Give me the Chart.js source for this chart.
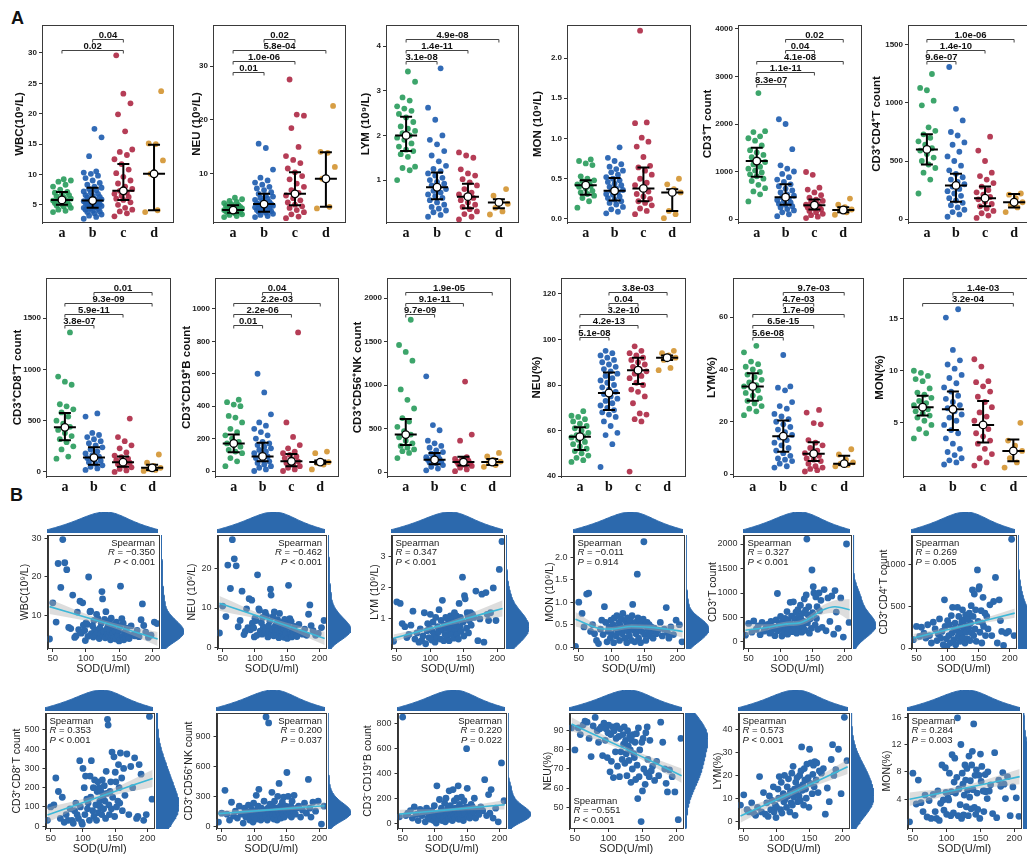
<!DOCTYPE html>
<html>
<head>
<meta charset="utf-8">
<script src="https://cdn.jsdelivr.net/npm/chart.js@4.4.1/dist/chart.umd.min.js"></script>
<style>
body{margin:0;background:#fff}
#fig{position:relative;width:1027px;height:854px;overflow:hidden}
#fig canvas{position:absolute}
.tag{position:absolute;font:bold 18px 'Liberation Sans',Arial,sans-serif;color:#111}
</style>
</head>
<body>
<div id="fig">
  <div class="tag" style="left:11px;top:8px">A</div>
  <div class="tag" style="left:10px;top:485px">B</div>
</div>
<script>
// ---------- panel A: values per group a, b, c, d ----------
const CATS = ['a', 'b', 'c', 'd'];

const wbcA = [
  [3.8,4.0,4.2,4.5,4.7,4.9,5.0,5.1,5.3,5.4,5.6,5.7,5.8,5.9,6.0,6.2,6.4,6.6,6.8,7.0,7.1,7.5,8.0,8.3,8.8,9.0,9.2],
  [2.7,3.0,3.2,3.4,3.6,3.8,3.9,4.0,4.2,4.3,4.4,4.5,4.6,4.7,4.8,4.9,5.0,5.1,5.2,5.3,5.4,5.5,5.6,5.7,5.8,5.9,6.0,6.2,6.3,6.5,6.6,6.8,7.0,7.2,7.4,7.6,7.8,8.0,8.3,8.6,9.0,9.4,9.8,10.1,10.3,10.5,13.0,16.1,17.5],
  [3.1,3.6,3.9,4.2,4.5,5.0,5.4,5.8,6.0,6.3,6.5,6.8,7.0,7.3,7.6,8.0,8.5,9.0,9.6,10.2,10.8,11.7,12.5,13.2,13.7,14.1,17.1,19.9,21.7,23.3,29.6],
  [3.8,4.1,10.1,12.3,15.0,15.1,23.7]
];
const wbcA_stats = [[5.8,5.0,7.1],[5.7,4.5,7.8],[7.3,5.8,11.7],[10.1,4.1,14.9]];
const wbcA_p = [[1,2,'0.04'],[0,2,'0.02']];
const wbcA_ticks = [5,10,15,20,25,30];

const neuA = [
  [2.0,2.2,2.4,2.5,2.7,2.8,2.9,3.0,3.1,3.2,3.3,3.3,3.4,3.5,3.6,3.7,3.8,3.9,4.0,4.1,4.2,4.4,4.6,4.8,5.0,5.3,5.6],
  [2.0,2.2,2.4,2.6,2.8,3.0,3.1,3.2,3.3,3.5,3.6,3.8,3.9,4.0,4.1,4.2,4.3,4.4,4.5,4.6,4.8,5.0,5.2,5.4,5.6,5.8,6.0,6.3,6.6,7.0,7.3,7.6,8.0,8.4,8.8,9.3,10.8,14.8,15.6],
  [1.8,2.1,2.5,2.9,3.3,3.7,4.0,4.3,4.7,5.1,5.5,6.0,6.5,7.0,7.6,8.2,9.0,9.6,10.3,11.0,12.0,12.6,13.3,15.0,18.5,20.8,21.0,27.5],
  [3.6,3.9,9.1,11.3,13.9,14.1,22.6]
];
const neuA_stats = [[3.3,2.8,4.2],[4.4,3.0,6.3],[6.3,4.2,10.3],[9.1,3.9,14.0]];
const neuA_p = [[1,2,'0.02'],[0,3,'5.8e-04'],[0,2,'1.0e-06'],[0,1,'0.01']];
const neuA_ticks = [10,20,30];

const lymA = [
  [1.0,1.22,1.27,1.3,1.52,1.58,1.65,1.68,1.75,1.82,1.9,1.95,2.0,2.05,2.1,2.15,2.2,2.3,2.4,2.48,2.55,2.6,2.65,2.78,2.85,3.2,3.43],
  [0.18,0.22,0.28,0.32,0.36,0.4,0.45,0.5,0.55,0.6,0.64,0.68,0.72,0.76,0.8,0.84,0.88,0.92,0.96,1.0,1.05,1.1,1.15,1.2,1.25,1.32,1.42,1.55,1.65,1.8,1.9,2.0,2.35,2.62,3.5],
  [0.12,0.18,0.24,0.3,0.35,0.4,0.45,0.5,0.55,0.6,0.64,0.68,0.72,0.8,0.88,0.95,1.02,1.1,1.15,1.24,1.5,1.55,1.62],
  [0.23,0.3,0.38,0.47,0.52,0.65,0.8]
];
const lymA_stats = [[2.0,1.65,2.42],[0.84,0.57,1.17],[0.63,0.37,0.92],[0.5,0.37,0.57]];
const lymA_p = [[0,3,'4.9e-08'],[0,2,'1.4e-11'],[0,1,'3.1e-08']];
const lymA_ticks = [1,2,3,4];

const monA = [
  [0.14,0.22,0.26,0.29,0.31,0.33,0.35,0.38,0.4,0.41,0.42,0.43,0.45,0.47,0.48,0.5,0.53,0.67,0.69,0.72,0.74],
  [0.07,0.09,0.12,0.15,0.18,0.2,0.22,0.24,0.26,0.28,0.3,0.31,0.33,0.35,0.36,0.38,0.4,0.42,0.44,0.46,0.48,0.5,0.52,0.55,0.58,0.6,0.62,0.65,0.68,0.72,0.76,0.89],
  [0.06,0.1,0.13,0.17,0.2,0.22,0.25,0.28,0.31,0.34,0.38,0.42,0.45,0.5,0.55,0.6,0.64,0.66,0.77,0.9,0.96,1.01,1.19,1.2,2.34],
  [0.01,0.06,0.1,0.33,0.37,0.43,0.5]
];
const monA_stats = [[0.42,0.30,0.48],[0.35,0.23,0.51],[0.38,0.22,0.64],[0.33,0.10,0.37]];
const monA_p = [];
const monA_ticks = [0,0.5,1,1.5,2];

const cd3A = [
  [370,520,580,650,720,800,850,900,940,980,1020,1060,1100,1150,1200,1240,1300,1350,1400,1450,1550,1650,1700,1740,1830,1850,2650],
  [60,100,140,180,210,240,270,300,320,350,380,400,430,460,490,520,560,600,640,690,730,780,830,880,950,1000,1060,1130,1470,2000,2100],
  [20,50,80,110,140,170,200,220,240,260,280,300,320,350,380,410,450,500,560,620,660,930,990],
  [90,140,180,200,250,300,430]
];
const cd3A_stats = [[1220,890,1500],[460,300,730],[290,200,410],[190,140,250]];
const cd3A_p = [[1,3,'0.02'],[1,2,'0.04'],[0,3,'4.1e-08'],[0,2,'1.1e-11'],[0,1,'8.3e-07']];
const cd3A_ticks = [0,1000,2000,3000,4000];

const cd4A = [
  [220,340,400,440,470,500,530,560,590,610,640,670,700,730,760,790,980,1020,1110,1130,1250],
  [20,40,60,80,100,120,140,160,180,200,220,240,260,280,300,320,340,360,390,420,460,500,540,580,640,660,720,750,850,950,1310],
  [10,30,50,70,90,110,130,150,170,190,210,230,250,280,310,340,370,400,500,590,710],
  [60,100,120,145,180,210,220]
];
const cd4A_stats = [[600,470,730],[290,150,390],[180,110,280],[145,100,215]];
const cd4A_p = [[0,3,'1.0e-06'],[0,2,'1.4e-10'],[0,1,'9.6e-07']];
const cd4A_ticks = [0,500,1000,1500];

const cd8A = [
  [130,150,220,250,290,320,350,380,410,440,470,500,540,580,610,640,660,850,880,930,1360],
  [20,35,50,65,80,95,110,120,135,150,165,180,200,220,240,260,280,300,320,340,360,380,540,570],
  [0,15,30,45,60,75,90,100,115,130,145,160,190,230,260,300,340,520],
  [10,20,30,40,60,90,170]
];
const cd8A_stats = [[435,310,575],[140,70,240],[95,50,150],[40,20,70]];
const cd8A_p = [[1,3,'0.01'],[0,3,'9.3e-09'],[0,2,'5.9e-11'],[0,1,'3.8e-07']];
const cd8A_ticks = [0,500,1000,1500];

const cd19A = [
  [30,60,80,110,120,130,150,160,170,180,200,220,240,260,300,330,340,400,410,425,440],
  [0,10,20,30,40,50,60,70,80,90,100,110,120,130,140,150,160,170,180,200,220,240,260,280,300,350,485,600],
  [0,10,20,30,40,50,60,70,80,90,100,110,120,140,160,210,300,855],
  [10,40,50,55,60,110,120]
];
const cd19A_stats = [[170,115,225],[90,60,175],[60,30,105],[55,45,65]];
const cd19A_p = [[1,2,'0.04'],[0,3,'2.2e-03'],[0,2,'2.2e-06'],[0,1,'0.01']];
const cd19A_ticks = [0,200,400,600,800,1000];

const nkA = [
  [160,220,240,260,280,300,330,360,400,430,470,520,580,620,730,830,950,1280,1380,1460,1750],
  [20,40,60,80,100,110,120,130,140,150,160,170,190,210,230,250,280,300,330,360,480,540,1100],
  [10,30,50,70,80,90,100,110,120,130,140,150,170,360,430,1040],
  [60,80,110,120,140,180,220]
];
const nkA_stats = [[430,310,610],[140,90,220],[115,75,175],[115,80,150]];
const nkA_p = [[0,3,'1.9e-05'],[0,2,'9.1e-11'],[0,1,'9.7e-09']];
const nkA_ticks = [0,500,1000,1500,2000];

const neupA = [
  [46.2,47,48,49,50,51,52,53,54,55,56,57,57.5,58,59,60,61,62,63,64,65,66,66.5,68.5],
  [44,54,58,59,62,64,66,67,68,69,70,71,72,73,74,75,76,77,78,79,80,81,82,83,84,85,86,87,88,89,90,91,92,93,94,95],
  [42,64,65,67,67.5,72,75,77,78,80,81,83,84,85,86,87,88,89,90,91,92,93,94,95,97],
  [86.5,87.5,91,92,93,94,95]
];
const neupA_stats = [[57.3,51.5,61.5],[76.5,69,85.5],[86.5,80.5,92],[92,91,93]];
const neupA_p = [[1,3,'3.8e-03'],[1,2,'0.04'],[0,3,'3.2e-10'],[0,2,'4.2e-13'],[0,1,'5.1e-08']];
const neupA_ticks = [40,60,80,100,120];

const lympA = [
  [22.5,24,25,26,27,28,29,30,31,32,33,33.5,34,35,36,37,38,39,40,41,42,43,46.5,49],
  [2.5,3,4,5,5.5,6,7,8,9,10,11,12,13,14,15,16,17,18,19,20,21,22,23,25,26,27.5,32,33,33.5,45.5],
  [1,1.5,2,2.5,3,4,5,5.5,6,7,7.5,8,9,10,11,12,13,19,19.5,23.5,24.5],
  [3,3.5,4,4.5,5.5,7.5,9.5]
];
const lympA_stats = [[33.5,28,38.5],[14.5,8.5,20.5],[7.8,5,12.2],[4,3.5,7]];
const lympA_p = [[1,3,'9.7e-03'],[1,2,'4.7e-03'],[0,3,'1.7e-09'],[0,2,'6.5e-15'],[0,1,'5.6e-08']];
const lympA_ticks = [0,20,40,60];

const monpA = [
  [3.5,4,4.4,4.8,5.2,5.5,5.7,5.9,6.1,6.3,6.5,6.7,6.9,7.1,7.4,7.7,7.9,8.3,9,9.2,9.5,9.8,10],
  [1,1.2,1.4,1.6,1.9,2.2,2.5,3,3.5,4,4.3,4.8,5.2,5.5,5.8,6.1,6.4,6.7,7,7.3,7.6,8,8.4,8.8,9.3,9.6,10.2,10.6,11,12,15.1,15.9],
  [0.9,1.2,1.6,2,2.5,3,3.3,3.7,4,4.4,4.8,5.2,5.6,6,6.5,7,7.5,8,8.5,8.9,9,10.4,11.1],
  [0.7,1.2,1.6,2.3,2.8,3.3,5]
];
const monpA_stats = [[6.5,5.7,7.6],[6.3,4.3,8],[4.8,3.1,7.1],[2.3,1.3,3.4]];
const monpA_p = [[1,3,'1.4e-03'],[0,3,'3.2e-04']];
const monpA_ticks = [5,10,15];

// ---------- panel B: SOD against each marker (same patients, same order) ----------
const sod = [
  45,50,55,58,62,65,68,71,74,77,
  80,83,85,87,89,91,93,95,96,98,
  99,100,102,103,104,106,107,108,110,111,
  112,113,115,116,117,118,120,121,122,123,
  124,125,126,127,128,129,130,131,132,133,
  134,135,136,137,138,139,140,141,142,143,
  144,145,146,148,149,150,151,152,154,155,
  156,157,158,160,161,163,165,168,171,174,
  177,180,183,185,187,190,194,198,203,207
];
const sodTicks = [50,100,150,200];

const wbcB = [
  3.8,13.2,8.2,23.4,17.2,29.6,23.6,21.8,6.8,6.5,
  15.2,4.2,4.6,10.8,6.2,13.6,5.3,13.2,7.4,6.0,
  3.4,8.0,7.6,4.5,19.9,10.9,11.0,5.2,7.2,4.3,
  8.6,6.2,4.8,10.2,5.5,9.1,3.9,6.6,5.1,7.9,
  16.1,14.2,4.6,5.8,8.9,4.1,10.9,6.3,5.0,7.0,
  4.4,8.4,5.6,3.6,9.2,4.9,6.7,5.3,4.0,7.6,
  5.9,3.8,8.2,4.7,6.0,3.3,7.1,17.5,9.1,4.5,
  7.9,3.6,5.5,4.2,6.6,5.0,3.9,7.2,4.8,4.6,
  6.0,4.4,8.8,12.9,7.3,5.6,4.2,4.8,8.2,7.8
];
const wbcB_fit = [[45,12.2,1.9],[128,8.0,0.6],[208,3.8,1.8]];
const wbcB_ticks = [10,20,30];

const neuB = [
  3.6,10.5,7.8,21.0,15.0,27.5,22.6,20.8,5.2,6.8,
  14.3,3.2,4.0,9.8,5.0,12.4,4.4,12.0,6.1,4.9,
  2.6,7.4,6.8,3.0,18.5,9.8,9.4,4.1,6.2,3.3,
  7.6,5.1,3.7,8.9,4.2,8.0,2.6,5.4,4.0,6.7,
  14.8,13.3,3.4,4.6,7.8,2.9,9.0,5.2,3.9,5.8,
  3.1,7.0,4.3,2.4,8.6,3.8,5.5,4.2,2.8,6.3,
  4.7,2.5,7.1,3.6,4.9,2.2,5.9,15.8,7.3,3.4,
  6.6,2.6,4.3,3.1,5.3,3.9,2.7,5.8,3.6,3.3,
  4.6,3.0,8.4,10.8,5.5,4.2,3.0,3.5,5.0,6.8
];
const neuB_fit = [[45,11.2,1.9],[128,6.7,0.6],[208,2.2,1.7]];
const neuB_ticks = [0,10,20];

const lymB = [
  0.28,1.55,1.5,0.85,0.75,0.4,0.5,0.8,1.25,0.35,
  0.55,0.25,0.68,0.3,0.45,1.2,0.2,0.62,0.85,0.4,
  0.7,1.15,0.32,0.6,0.9,0.5,0.25,1.05,0.4,0.75,
  0.58,1.3,0.35,0.95,0.65,1.6,0.3,0.8,0.5,1.05,
  0.7,0.42,1.0,0.85,0.3,0.6,1.1,0.75,0.5,1.0,
  0.9,0.38,1.2,0.65,0.8,1.1,0.5,0.95,0.35,1.5,
  0.75,1.05,0.6,2.35,0.9,0.45,1.75,1.65,0.7,1.2,
  1.1,0.55,0.95,1.2,0.8,1.15,1.05,1.9,0.3,1.0,
  1.8,0.25,1.85,1.15,0.95,1.2,2.0,0.95,2.6,3.5
];
const lymB_fit = [[45,0.38,0.12],[128,0.86,0.06],[208,1.34,0.26]];
const lymB_ticks = [1,2,3];

const monB = [
  0.02,1.0,0.75,0.45,1.18,1.2,0.35,0.5,0.3,0.15,
  0.08,0.4,0.6,0.28,0.9,0.55,0.12,0.35,0.45,0.2,
  0.6,0.3,0.5,0.1,0.65,0.42,0.25,0.7,0.35,0.55,
  0.15,0.48,0.62,0.3,0.75,0.4,0.2,0.58,0.45,0.1,
  0.65,0.35,0.52,0.25,0.6,0.42,0.15,0.7,0.95,0.38,
  0.5,0.12,0.55,0.3,0.45,1.62,0.65,0.2,0.4,0.58,
  0.1,0.5,0.35,0.62,2.34,0.28,0.48,0.15,0.55,0.4,
  0.3,0.5,0.25,0.45,0.35,0.2,0.42,0.3,0.38,0.55,
  0.25,0.4,0.88,0.32,0.2,0.45,0.28,0.6,0.5,0.12
];
const monB_fit = [[45,0.62,0.16],[80,0.42,0.07],[100,0.4,0.05],[130,0.46,0.05],[160,0.44,0.06],[185,0.4,0.09],[208,0.35,0.14]];
const monB_ticks = [0,0.5,1,1.5,2];

const cd3B = [
  140,380,200,430,260,330,150,400,220,290,
  360,180,420,250,310,130,450,990,230,380,
  270,520,120,350,420,200,480,300,620,160,
  440,260,810,370,530,210,820,330,480,280,
  610,180,390,660,250,520,340,750,460,200,
  580,310,420,880,240,650,960,2100,390,550,
  720,180,470,280,1470,600,1130,1000,350,920,
  480,720,260,1000,640,850,300,1070,230,900,
  420,940,160,1050,610,280,900,100,2000,400
];
const cd3B_fit = [[45,240,120],[80,300,60],[110,370,50],[130,390,50],[150,520,70],[165,650,90],[185,720,130],[208,660,220]];
const cd3B_ticks = [0,500,1000,1500,2000];

const cd4B = [
  100,260,140,250,180,120,280,150,60,310,
  230,90,170,350,120,200,40,580,260,110,
  20,330,150,280,60,390,180,490,100,230,
  300,40,210,490,140,380,80,260,180,320,
  460,120,230,340,60,400,190,270,110,350,
  240,420,90,300,510,180,700,380,150,650,
  230,460,80,940,320,710,740,190,450,60,
  300,610,260,420,150,380,230,520,150,560,
  850,60,580,330,200,30,180,200,1310,150
];
const cd4B_fit = [[45,120,50],[128,272,18],[208,420,55]];
const cd4B_ticks = [0,500,1000];

const cd8B = [
  30,100,110,250,180,40,150,20,60,30,
  90,30,15,80,120,60,40,340,100,20,
  10,300,200,60,260,140,90,120,30,260,
  150,340,80,200,50,240,110,30,180,230,
  70,200,130,100,180,60,240,150,90,210,
  130,40,285,170,555,525,110,60,180,230,
  90,385,150,360,50,280,230,100,130,320,
  200,120,380,250,80,300,160,375,60,310,
  200,355,40,50,320,270,30,60,570,140
];
const cd8B_fit = [[45,58,38],[128,155,14],[208,248,45]];
const cd8B_ticks = [0,100,200,300,400,500];

const nkB = [
  40,130,360,120,60,240,100,150,80,200,
  120,30,180,90,140,210,60,110,170,40,
  230,90,150,310,70,200,370,120,60,180,
  140,80,250,160,100,1100,60,180,1040,130,
  220,90,160,340,110,190,70,250,150,120,
  180,60,300,140,430,100,200,80,160,240,
  120,290,90,200,150,540,180,300,110,140,
  200,90,250,150,310,120,180,200,90,160,
  230,130,470,180,90,240,150,250,20,200
];
const nkB_fit = [[45,125,32],[128,165,12],[208,205,35]];
const nkB_ticks = [0,300,600,900];

const cd19B = [
  50,855,60,80,100,40,130,70,20,110,
  60,90,10,120,40,80,30,100,60,20,
  140,50,0,300,80,30,190,60,120,20,
  90,40,160,10,200,70,120,30,260,80,
  140,50,100,20,270,60,180,40,120,90,
  200,60,300,30,150,90,40,210,120,60,
  20,180,80,130,600,280,50,110,40,90,
  150,60,130,90,200,40,110,70,130,100,
  350,60,230,80,270,40,120,10,485,180
];
const cd19B_fit = [[45,72,35],[128,110,12],[208,148,38]];
const cd19B_ticks = [0,200,400,600,800];

const neupB = [
  91.5,80,91.5,88,93,95,94.5,86,76.5,92.5,
  97,90,84,91,92,77,94,85,91,76,
  89,93,68.5,88,74,92,65.5,90,79,86,
  92.5,71.5,87,66,91,79,75,88,83,92,
  73,85,78,66.5,90,82,74.5,87,80,63,
  85,70,88,78,76,84,64.5,88.5,72,54.5,
  91.5,66,80,42.5,84,58.5,86,70,62,89,
  68,92,75,66,85,69,71.5,64,74,66.5,
  94.5,84,70,62.5,58,69.5,66,58,43.5,86
];
const neupB_fit = [[45,93.5,3.6],[128,80,1.3],[208,66.5,3.8]];
const neupB_ticks = [50,60,70,80,90];

const lympB = [
  7,11.5,5,4,8,3.5,2.5,6,19.5,4,
  12.5,3,8,2,11,5,9,15,4,7,
  1.5,6,14,10,19.5,5,17,3.5,12,8.5,
  20,9.5,6,15,11,18.5,4,13,8,21,
  7,24,10.5,14,2.5,17,12,19,8.5,15,
  11,20,9,22,32.5,13.5,16,7,23,18,
  14,10,25,19,6,31.5,16.5,25.5,12,20.5,
  24.5,15,26,18,25.5,12.5,22,21,23,3,
  14.5,8.5,27,33.5,20,22.5,31.5,12,45.5,26.5
];
const lympB_fit = [[45,2.2,3.0],[128,13,1.1],[208,23.8,3.2]];
const lympB_ticks = [0,10,20,30,40];

const monpB = [
  0.7,7.8,3.3,6.8,3.5,2.2,4.6,1.4,3.8,1.2,
  4.7,2.2,1.2,5.2,0.9,3.4,9,3.9,2.4,8.6,
  5,1.8,4.2,3.9,7.8,1.6,5.1,10.5,2,6.5,
  10,4.9,7.2,15.9,1.6,5.5,3.2,12,1.2,7.8,
  6.2,1.7,4.6,9,6.8,2.9,8.5,5.3,1.6,10.3,
  4.3,6.7,2.6,9,11,5.4,15,2.8,7.5,1.8,
  8.3,4.9,2.5,7.5,1.2,10.6,6.6,8.8,5.2,2.2,
  5.2,7.6,5.1,4.1,8,5.2,6.1,1.9,10.8,1.3,
  6.8,5.9,7.9,6.2,4.1,7.3,1.6,5.8,4.2,1.5
];
const monpB_fit = [[45,4.0,1.0],[128,5.65,0.4],[208,7.3,1.1]];
const monpB_ticks = [4,8,12,16];

const spearR = ['\u22120.350','\u22120.462','0.347','\u22120.011','0.327','0.269','0.353','0.200','0.220','\u22120.551','0.573','0.284'];
const spearP = ['< 0.001','< 0.001','< 0.001','= 0.914','< 0.001','= 0.005','< 0.001','= 0.037','= 0.022','< 0.001','< 0.001','= 0.003'];

// ---------- look ----------
const SANS = "'Liberation Sans', Arial, sans-serif";
const SERIF = "'Liberation Serif', 'Times New Roman', serif";
const COLS = ['rgba(44,157,94,0.92)','rgba(33,94,176,0.92)','rgba(175,45,72,0.92)','rgba(212,150,52,0.92)'];
const BLUE = '#2c69ad';
const FITC = '#3db8d8';
Chart.defaults.font.family = SANS;
Chart.defaults.animation = false;
Chart.defaults.events = [];

const fig = document.getElementById('fig');
function mk(x, y, w, h) {
  const c = document.createElement('canvas');
  x = Math.round(x); y = Math.round(y); w = Math.round(w); h = Math.round(h);
  c.width = w; c.height = h;
  c.style.left = x + 'px'; c.style.top = y + 'px';
  c.style.width = w + 'px'; c.style.height = h + 'px';
  fig.appendChild(c);
  return c;
}
function jit(i) { return (((i * 7) % 11) - 5) * 0.058; }
function fixTicks(vals) { return s => { s.ticks = vals.map(v => ({value: v})); }; }

const boxPlug = {
  id: 'box',
  afterDraw(chart) {
    const {ctx, chartArea: a} = chart;
    ctx.save();
    ctx.strokeStyle = '#3a3a3a'; ctx.lineWidth = 1;
    ctx.strokeRect(Math.round(a.left) + 0.5, Math.round(a.top) + 0.5, Math.round(a.right - a.left) - 1, Math.round(a.bottom - a.top) - 1);
    ctx.restore();
  }
};

function statPlug(P) {
  return {
    id: 'stat',
    afterDatasetsDraw(chart) {
      const {ctx, chartArea: ca, scales: {x, y}} = chart;
      ctx.save();
      ctx.strokeStyle = '#000';
      P.st.forEach((s, g) => {
        const cx = x.getPixelForValue(g + 1);
        const m = y.getPixelForValue(s[0]), lo = y.getPixelForValue(s[1]), hi = y.getPixelForValue(s[2]);
        ctx.lineWidth = 2;
        ctx.beginPath();
        ctx.moveTo(cx, lo); ctx.lineTo(cx, hi);
        ctx.moveTo(cx - 6, lo); ctx.lineTo(cx + 6, lo);
        ctx.moveTo(cx - 6, hi); ctx.lineTo(cx + 6, hi);
        ctx.moveTo(cx - 11, m); ctx.lineTo(cx + 11, m);
        ctx.stroke();
        ctx.beginPath(); ctx.arc(cx, m, 3.8, 0, 2 * Math.PI);
        ctx.fillStyle = '#fff'; ctx.fill(); ctx.lineWidth = 1.3; ctx.stroke();
      });
      // significance brackets, top to bottom
      ctx.strokeStyle = '#444'; ctx.lineWidth = 1;
      ctx.fillStyle = '#111';
      ctx.font = 'bold 9.5px ' + SANS;
      ctx.textAlign = 'center'; ctx.textBaseline = 'alphabetic';
      P.p.forEach(([g1, g2, lab], k) => {
        const yy = Math.round(ca.top + 13.5 + 11.3 * k) + 0.5;
        const x1 = x.getPixelForValue(g1 + 1), x2 = x.getPixelForValue(g2 + 1);
        ctx.beginPath();
        ctx.moveTo(x1, yy + 3); ctx.lineTo(x1, yy); ctx.lineTo(x2, yy); ctx.lineTo(x2, yy + 3);
        ctx.stroke();
        ctx.fillText(lab, (x1 + x2) / 2, yy - 1.5);
      });
      ctx.restore();
    }
  };
}

function drawA(P) {
  const [l, t, r, b] = P.f;
  const cl = P.tx - 7, ct = t - 6, pr = 3, xh = 24;
  const ds = P.pts.map((arr, g) => ({
    data: arr.map((v, i) => ({x: g + 1 + jit(i), y: v})),
    pointBackgroundColor: COLS[g], pointBorderWidth: 0, pointRadius: 2.9
  }));
  new Chart(mk(cl, ct, r - cl + pr, b - ct + xh), {
    type: 'scatter',
    data: {datasets: ds},
    plugins: [statPlug(P), boxPlug],
    options: {
      responsive: false,
      layout: {padding: {top: t - ct, right: pr, left: 0, bottom: 0}},
      plugins: {legend: {display: false}, tooltip: {enabled: false}},
      scales: {
        x: {
          type: 'linear', min: 0.35, max: 4.65,
          afterBuildTicks: fixTicks([1, 2, 3, 4]),
          afterFit: s => { s.height = xh; s.paddingLeft = 0; s.paddingRight = 0; },
          grid: {display: false, drawTicks: false},
          border: {display: false},
          ticks: {autoSkip: false, maxRotation: 0, padding: 2, color: '#111',
                  font: {family: SERIF, size: 14, weight: 'bold'},
                  callback: v => CATS[v - 1]}
        },
        y: {
          min: P.min, max: P.max,
          afterBuildTicks: fixTicks(P.ticks),
          afterFit: s => { s.width = l - cl; s.paddingTop = 0; s.paddingBottom = 0; },
          grid: {drawOnChartArea: false, tickLength: 3, color: '#333'},
          border: {color: '#333'},
          ticks: {autoSkip: false, padding: 2, color: '#222', font: {size: 8, weight: 'bold'},
                  callback: v => P.dec ? v.toFixed(P.dec) : String(v)},
          title: {display: true, text: P.title, padding: 0, color: '#111', font: {size: 11.5, weight: 'bold'}}
        }
      }
    }
  });
}

function kde(vals, lo, hi, adj) {
  const n = vals.length;
  const mean = vals.reduce((s, v) => s + v, 0) / n;
  const sd = Math.sqrt(vals.reduce((s, v) => s + (v - mean) * (v - mean), 0) / (n - 1));
  const s = [...vals].sort((a, b) => a - b);
  const q = f => { const h = (n - 1) * f, i = Math.floor(h); return s[i] + (s[Math.min(i + 1, n - 1)] - s[i]) * (h - i); };
  const bw = adj * 0.9 * Math.min(sd, (q(0.75) - q(0.25)) / 1.34) * Math.pow(n, -0.2);
  const out = [];
  for (let k = 0; k <= 90; k++) {
    const x = lo + (hi - lo) * k / 90;
    let d = 0;
    for (const v of vals) d += Math.exp(-0.5 * ((x - v) / bw) ** 2);
    out.push([x, d / (n * bw)]);
  }
  return out;
}

function spearPlug(P) {
  return {
    id: 'spear',
    afterDraw(chart) {
      const {ctx, chartArea: ca} = chart;
      const rows = [['', 'Spearman'], ['R', ' = ' + P.r], ['P', ' ' + P.p]];
      ctx.save();
      ctx.fillStyle = '#222'; ctx.textBaseline = 'middle'; ctx.textAlign = 'left';
      rows.forEach(([it, tx], i) => {
        ctx.font = 'italic 9.5px ' + SANS;
        const w1 = ctx.measureText(it).width;
        ctx.font = '9.5px ' + SANS;
        const w2 = ctx.measureText(tx).width;
        const x0 = P.pos === 'tr' ? ca.right - 4 - w1 - w2 : ca.left + 4;
        const yy = P.pos === 'bl' ? ca.bottom - 28 + 9.8 * i : ca.top + 8 + 9.8 * i;
        ctx.font = 'italic 9.5px ' + SANS;
        ctx.fillText(it, x0, yy);
        ctx.font = '9.5px ' + SANS;
        ctx.fillText(tx, x0 + w1, yy);
      });
      ctx.restore();
    }
  };
}

const XMIN = 42, XMAX = 210;
function drawB(P) {
  const [l, t, r, b] = P.f;
  const cl = P.tx - 6.5, ct = t - 6, pr = 4, xh = 27;
  const smooth = {tension: 0.4, cubicInterpolationMode: 'monotone'};
  const ds = [
    Object.assign({data: P.fit.map(q => ({x: q[0], y: q[1]})), showLine: true, borderColor: FITC, borderWidth: 1.6, pointRadius: 0}, smooth),
    Object.assign({data: P.fit.map(q => ({x: q[0], y: q[1] - q[2]})), showLine: true, borderWidth: 0, borderColor: 'rgba(0,0,0,0)', pointRadius: 0}, smooth),
    Object.assign({data: P.fit.map(q => ({x: q[0], y: q[1] + q[2]})), showLine: true, borderWidth: 0, borderColor: 'rgba(0,0,0,0)', pointRadius: 0,
                   fill: '-1', backgroundColor: 'rgba(175,175,175,0.42)'}, smooth),
    {data: sod.map((s, i) => ({x: s, y: P.y[i]})), pointBackgroundColor: BLUE, pointBorderWidth: 0, pointRadius: 3.4}
  ];
  new Chart(mk(cl, ct, r - cl + pr, b - ct + xh), {
    type: 'scatter',
    data: {datasets: ds},
    plugins: [spearPlug(P), boxPlug],
    options: {
      responsive: false,
      layout: {padding: {top: t - ct, right: pr, left: 0, bottom: 0}},
      plugins: {legend: {display: false}, tooltip: {enabled: false}},
      scales: {
        x: {
          type: 'linear', min: XMIN, max: XMAX,
          afterBuildTicks: fixTicks(sodTicks),
          afterFit: s => { s.height = xh; s.paddingLeft = 0; s.paddingRight = 0; },
          grid: {drawOnChartArea: false, tickLength: 3, color: '#333'},
          border: {display: false},
          ticks: {autoSkip: false, maxRotation: 0, padding: 1, color: '#333', font: {size: 9.5}},
          title: {display: true, text: 'SOD(U/ml)', padding: 0, color: '#222', font: {size: 11}}
        },
        y: {
          min: P.min, max: P.max,
          afterBuildTicks: fixTicks(P.ticks),
          afterFit: s => { s.width = l - cl; s.paddingTop = 0; s.paddingBottom = 0; },
          grid: {drawOnChartArea: false, tickLength: 3, color: '#333'},
          border: {color: '#333'},
          ticks: {autoSkip: false, padding: 3, color: '#333', font: {size: 9},
                  callback: v => P.dec ? v.toFixed(P.dec) : String(v)},
          title: {display: true, text: P.title, padding: 0, color: '#222', font: {size: 10.5}}
        }
      }
    }
  });

  const bare = {responsive: false, layout: {padding: 0},
                plugins: {legend: {display: false}, tooltip: {enabled: false}}};
  // marginal density of SOD on top
  const dx = kde(sod, XMIN, XMAX, 1.45);
  const mx = Math.max(...dx.map(d => d[1]));
  new Chart(mk(l, t - 23, r - l, 21), {
    type: 'line',
    data: {datasets: [{data: dx.map(([x, v]) => ({x: x, y: v})), fill: 'origin',
                       backgroundColor: BLUE, borderColor: BLUE, borderWidth: 1, pointRadius: 0}]},
    options: Object.assign({}, bare, {scales: {
      x: {type: 'linear', display: false, min: XMIN, max: XMAX},
      y: {type: 'linear', display: false, min: 0, max: mx}}})
  });
  // marginal density of the marker on the right
  const dy = kde(P.y, P.min, P.max, 1.8);
  const my = Math.max(...dy.map(d => d[1]));
  new Chart(mk(r + 3, t, 23, b - t), {
    type: 'line',
    data: {datasets: [{data: dy.map(([y, v]) => ({x: v, y: y})), fill: 'origin',
                       backgroundColor: BLUE, borderColor: BLUE, borderWidth: 1, pointRadius: 0}]},
    options: Object.assign({}, bare, {indexAxis: 'y', scales: {
      x: {type: 'linear', display: false, min: 0, max: my},
      y: {type: 'linear', display: false, min: P.min, max: P.max}}})
  });
}

// ---------- layout ----------
const panelsA = [
  {title: 'WBC(10\u2079/L)', pts: wbcA, st: wbcA_stats, p: wbcA_p, ticks: wbcA_ticks, min: 2.0, max: 34.6, f: [42, 25, 175, 223], tx: 20},
  {title: 'NEU (10\u2079/L)', pts: neuA, st: neuA_stats, p: neuA_p, ticks: neuA_ticks, min: 0.9, max: 37.6, f: [213, 25, 347, 223], tx: 197},
  {title: 'LYM (10\u2079/L)', pts: lymA, st: lymA_stats, p: lymA_p, ticks: lymA_ticks, min: 0.04, max: 4.47, f: [386, 25, 520, 223], tx: 366},
  {title: 'MON (10\u2079/L)', pts: monA, st: monA_stats, p: monA_p, ticks: monA_ticks, min: -0.05, max: 2.41, dec: 1, f: [567, 25, 692, 223], tx: 538},
  {title: 'CD3\u207AT count', pts: cd3A, st: cd3A_stats, p: cd3A_p, ticks: cd3A_ticks, min: -84, max: 4084, f: [738, 25, 863, 223], tx: 708},
  {title: 'CD3\u207ACD4\u207AT count', pts: cd4A, st: cd4A_stats, p: cd4A_p, ticks: cd4A_ticks, min: -34, max: 1672, f: [908, 25, 1034, 223], tx: 877},
  {title: 'CD3\u207ACD8\u207AT count', pts: cd8A, st: cd8A_stats, p: cd8A_p, ticks: cd8A_ticks, min: -49, max: 1890, f: [46, 278, 172, 477], tx: 18},
  {title: 'CD3\u207ACD19\u207AB count', pts: cd19A, st: cd19A_stats, p: cd19A_p, ticks: cd19A_ticks, min: -37, max: 1191, f: [215, 278, 340, 477], tx: 187},
  {title: 'CD3\u207ACD56\u207ANK count', pts: nkA, st: nkA_stats, p: nkA_p, ticks: nkA_ticks, min: -57, max: 2230, f: [387, 278, 512, 477], tx: 358},
  {title: 'NEU(%)', pts: neupA, st: neupA_stats, p: neupA_p, ticks: neupA_ticks, min: 39.6, max: 127, f: [561, 278, 687, 477], tx: 537},
  {title: 'LYM(%)', pts: lympA, st: lympA_stats, p: lympA_p, ticks: lympA_ticks, min: -1.1, max: 74.9, f: [733, 278, 865, 477], tx: 712},
  {title: 'MON(%)', pts: monpA, st: monpA_stats, p: monpA_p, ticks: monpA_ticks, min: -0.2, max: 18.9, f: [903, 278, 1034, 477], tx: 880}
];

const panelsB = [
  {title: 'WBC(10\u2079/L)', y: wbcB, fit: wbcB_fit, ticks: wbcB_ticks, min: 1.2, max: 30.8, pos: 'tr', f: [47, 535, 158, 649], tx: 25},
  {title: 'NEU (10\u2079/L)', y: neuB, fit: neuB_fit, ticks: neuB_ticks, min: -0.5, max: 28.7, pos: 'tr', f: [217, 535, 325, 649], tx: 192},
  {title: 'LYM (10\u2079/L)', y: lymB, fit: lymB_fit, ticks: lymB_ticks, min: 0.03, max: 3.71, pos: 'tl', f: [391, 535, 503, 649], tx: 375},
  {title: 'MON (10\u2079/L)', y: monB, fit: monB_fit, ticks: monB_ticks, min: -0.04, max: 2.49, dec: 1, pos: 'tl', f: [573, 535, 683, 649], tx: 550},
  {title: 'CD3\u207AT count', y: cd3B, fit: cd3B_fit, ticks: cd3B_ticks, min: -143, max: 2184, pos: 'tl', f: [743, 535, 850, 649], tx: 713},
  {title: 'CD3\u207ACD4\u207AT count', y: cd4B, fit: cd4B_fit, ticks: cd4B_ticks, min: -12, max: 1361, pos: 'tl', f: [911, 535, 1015, 649], tx: 884},
  {title: 'CD3\u207ACD8\u207AT count', y: cd8B, fit: cd8B_fit, ticks: cd8B_ticks, min: -15, max: 588, pos: 'tl', f: [45, 713, 153, 829], tx: 17},
  {title: 'CD3\u207ACD56\u207ANK count', y: nkB, fit: nkB_fit, ticks: nkB_ticks, min: -30, max: 1140, pos: 'tr', f: [216, 713, 325, 829], tx: 189},
  {title: 'CD3\u207BCD19\u207AB count', y: cd19B, fit: cd19B_fit, ticks: cd19B_ticks, min: -48, max: 888, pos: 'tr', f: [397, 713, 505, 829], tx: 368},
  {title: 'NEU(%)', y: neupB, fit: neupB_fit, ticks: neupB_ticks, min: 38.6, max: 99.3, pos: 'bl', f: [569, 713, 682, 829], tx: 548},
  {title: 'LYM(%)', y: lympB, fit: lympB_fit, ticks: lympB_ticks, min: -3.5, max: 47.4, pos: 'tl', f: [738, 713, 848, 829], tx: 718},
  {title: 'MON(%)', y: monpB, fit: monpB_fit, ticks: monpB_ticks, min: -0.35, max: 16.6, pos: 'tl', f: [907, 713, 1020, 829], tx: 887}
];

panelsA.forEach(drawA);
panelsB.forEach((P, i) => { P.r = spearR[i]; P.p = spearP[i]; drawB(P); });
</script>
</body>
</html>
